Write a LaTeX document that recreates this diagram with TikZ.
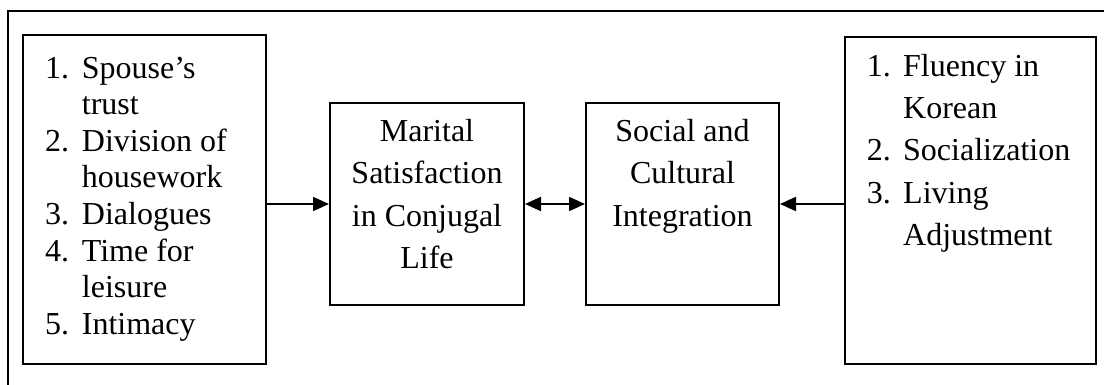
\documentclass[tikz,border=0pt]{standalone}
\usepackage{fontspec}
\setmainfont{Liberation Serif}
\usetikzlibrary{arrows.meta}
\begin{document}
\begin{tikzpicture}[x=1pt,y=-1pt,
  frameline/.style={line width=2pt},
  box/.style={draw,line width=2pt,inner sep=0pt},
  txt/.style={anchor=base west,inner sep=0pt,font=\fontsize{32}{38}\selectfont},
  ctxt/.style={anchor=base,inner sep=0pt,font=\fontsize{32}{38}\selectfont},
  arr/.style={line width=2pt,-{Triangle[length=16pt,width=14pt]}},
  darr/.style={line width=2pt,{Triangle[length=16pt,width=14pt]}-{Triangle[length=16pt,width=14pt]}}]
\useasboundingbox (0,0) rectangle (1104,385);
\draw[frameline] (8,385) -- (8,11) -- (1104,11);
% boxes
\node[box,minimum width=242.6pt,minimum height=329pt] (lbox) at (144.3,199.5) {};
\node[box,minimum width=251pt,minimum height=327pt] (rbox) at (970.5,200.5) {};
\node[box,minimum width=194pt,minimum height=202pt] (mbox) at (427,204) {};
\node[box,minimum width=193pt,minimum height=202pt] (sbox) at (682.5,204) {};
% left list
\node[txt] (ln1) at (45,78.5) {1.};
\node[txt] (lt1) at (81.7,78.5) {Spouse’s};
\node[txt] (lt2) at (81.7,115) {trust};
\node[txt] (ln3) at (45,151.5) {2.};
\node[txt] (lt3) at (81.7,151.5) {Division of};
\node[txt] (lt4) at (81.7,188) {housework};
\node[txt] (ln5) at (45,224.5) {3.};
\node[txt] (lt5) at (81.7,224.5) {Dialogues};
\node[txt] (ln6) at (45,261) {4.};
\node[txt] (lt6) at (81.7,261) {Time for};
\node[txt] (lt7) at (81.7,297.5) {leisure};
\node[txt] (ln8) at (45,334) {5.};
\node[txt] (lt8) at (81.7,334) {Intimacy};
% right list
\node[txt] (rn1) at (866.7,76.7) {1.};
\node[txt] (rt1) at (903,76.7) {Fluency in};
\node[txt] (rt2) at (903,118.4) {Korean};
\node[txt] (rn3) at (866.7,160.1) {2.};
\node[txt] (rt3) at (903,160.1) {Socialization};
\node[txt] (rn4) at (866.7,204) {3.};
\node[txt] (rt4) at (903,204) {Living};
\node[txt] (rt5) at (903,245) {Adjustment};
% middle texts
\node[ctxt] (m1) at (427,141.7) {Marital};
\node[ctxt] (m2) at (427,183.3) {Satisfaction};
\node[ctxt] (m3) at (427,226) {in Conjugal};
\node[ctxt] (m4) at (427,268) {Life};
\node[ctxt] (s1) at (682.5,141.7) {Social and};
\node[ctxt] (s2) at (682.5,183.3) {Cultural};
\node[ctxt] (s3) at (682.5,226) {Integration};
% connectors
\draw[arr] (lbox.east |- mbox.west) -- (mbox.west);
\draw[darr] (mbox.east) -- (sbox.west);
\draw[arr] (rbox.west |- sbox.east) -- (sbox.east);
\end{tikzpicture}
\end{document}
